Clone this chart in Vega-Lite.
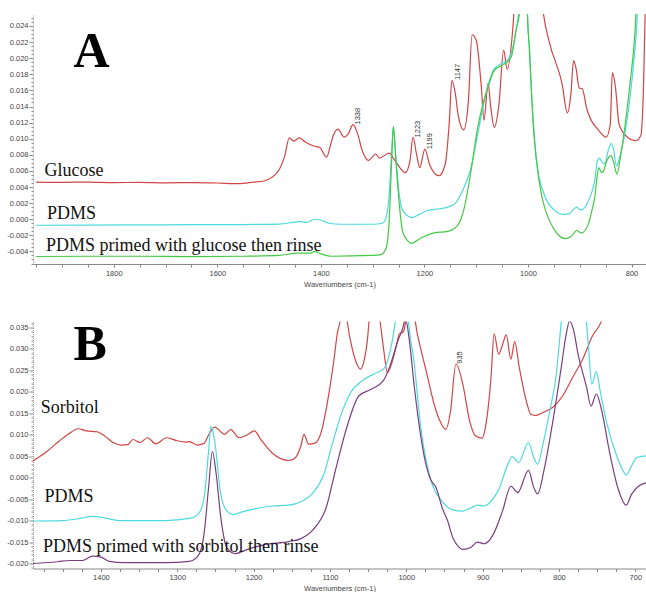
{
  "$schema": "https://vega.github.io/schema/vega-lite/v6.json",
  "background": "white",
  "padding": {"left": 0, "top": 13, "right": 0, "bottom": 0},
  "autosize": {"type": "pad"},
  "bounds": "flush",
  "spacing": 57.5,
  "config": {
    "view": {"stroke": null},
    "font": "Liberation Sans",
    "axis": {"grid": false, "labelFont": "Liberation Sans", "titleFont": "Liberation Sans"}
  },
  "resolve": {"scale": {"x": "independent", "y": "independent", "color": "independent"}},
  "datasets": {
    "a": [
      {"s":"Glucose","wn":1950,"v":0.00462},{"s":"Glucose","wn":1900,"v":0.00458},{"s":"Glucose","wn":1850,"v":0.00462},{"s":"Glucose","wn":1800,"v":0.00455},{"s":"Glucose","wn":1750,"v":0.00458},{"s":"Glucose","wn":1700,"v":0.00452},{"s":"Glucose","wn":1650,"v":0.00455},{"s":"Glucose","wn":1600,"v":0.0045},{"s":"Glucose","wn":1560,"v":0.00442},{"s":"Glucose","wn":1530,"v":0.0046},{"s":"Glucose","wn":1510,"v":0.00475},{"s":"Glucose","wn":1495,"v":0.0052},{"s":"Glucose","wn":1480,"v":0.0062},{"s":"Glucose","wn":1470,"v":0.0078},{"s":"Glucose","wn":1461,"v":0.0101},{"s":"Glucose","wn":1452,"v":0.0097},{"s":"Glucose","wn":1442,"v":0.0101},{"s":"Glucose","wn":1430,"v":0.0096},{"s":"Glucose","wn":1414,"v":0.0091},{"s":"Glucose","wn":1402,"v":0.0089},{"s":"Glucose","wn":1389,"v":0.0077},{"s":"Glucose","wn":1381,"v":0.0093},{"s":"Glucose","wn":1376,"v":0.0104},{"s":"Glucose","wn":1367,"v":0.0112},{"s":"Glucose","wn":1355,"v":0.0102},{"s":"Glucose","wn":1347,"v":0.0106},{"s":"Glucose","wn":1338,"v":0.01175},{"s":"Glucose","wn":1329,"v":0.0106},{"s":"Glucose","wn":1320,"v":0.0085},{"s":"Glucose","wn":1308,"v":0.0073},{"s":"Glucose","wn":1294,"v":0.0081},{"s":"Glucose","wn":1287,"v":0.0076},{"s":"Glucose","wn":1268,"v":0.0082},{"s":"Glucose","wn":1257,"v":0.0073},{"s":"Glucose","wn":1237,"v":0.0058},{"s":"Glucose","wn":1228,"v":0.0072},{"s":"Glucose","wn":1222,"v":0.0102},{"s":"Glucose","wn":1215,"v":0.008},{"s":"Glucose","wn":1209,"v":0.0064},{"s":"Glucose","wn":1199,"v":0.0087},{"s":"Glucose","wn":1190,"v":0.0068},{"s":"Glucose","wn":1172,"v":0.0054},{"s":"Glucose","wn":1160,"v":0.0068},{"s":"Glucose","wn":1152,"v":0.012},{"s":"Glucose","wn":1147,"v":0.01725},{"s":"Glucose","wn":1140,"v":0.0155},{"s":"Glucose","wn":1135,"v":0.013},{"s":"Glucose","wn":1124,"v":0.0111},{"s":"Glucose","wn":1115,"v":0.0147},{"s":"Glucose","wn":1108,"v":0.0229},{"s":"Glucose","wn":1100,"v":0.02225},{"s":"Glucose","wn":1090,"v":0.0164},{"s":"Glucose","wn":1085,"v":0.0123},{"s":"Glucose","wn":1077,"v":0.0169},{"s":"Glucose","wn":1072,"v":0.014},{"s":"Glucose","wn":1065,"v":0.0114},{"s":"Glucose","wn":1056,"v":0.0143},{"s":"Glucose","wn":1047,"v":0.021},{"s":"Glucose","wn":1040,"v":0.0186},{"s":"Glucose","wn":1030,"v":0.0231},{"s":"Glucose","wn":1020,"v":0.033},{"s":"Glucose","wn":1000,"v":0.045},{"s":"Glucose","wn":980,"v":0.032},{"s":"Glucose","wn":970,"v":0.0255},{"s":"Glucose","wn":958,"v":0.0218},{"s":"Glucose","wn":934,"v":0.0168},{"s":"Glucose","wn":924,"v":0.0132},{"s":"Glucose","wn":917,"v":0.0156},{"s":"Glucose","wn":912,"v":0.0197},{"s":"Glucose","wn":907,"v":0.0187},{"s":"Glucose","wn":901,"v":0.0163},{"s":"Glucose","wn":895,"v":0.0162},{"s":"Glucose","wn":887,"v":0.0139},{"s":"Glucose","wn":863,"v":0.011},{"s":"Glucose","wn":849,"v":0.0102},{"s":"Glucose","wn":841,"v":0.0118},{"s":"Glucose","wn":837,"v":0.0182},{"s":"Glucose","wn":831,"v":0.0164},{"s":"Glucose","wn":824,"v":0.0118},{"s":"Glucose","wn":808,"v":0.0102},{"s":"Glucose","wn":792,"v":0.00975},{"s":"Glucose","wn":782,"v":0.0104},{"s":"Glucose","wn":777,"v":0.016},{"s":"Glucose","wn":772,"v":0.03},
      {"s":"PDMS","wn":1950,"v":-0.00075},{"s":"PDMS","wn":1850,"v":-0.00072},{"s":"PDMS","wn":1750,"v":-0.0007},{"s":"PDMS","wn":1650,"v":-0.00068},{"s":"PDMS","wn":1550,"v":-0.00066},{"s":"PDMS","wn":1480,"v":-0.0006},{"s":"PDMS","wn":1450,"v":-0.00035},{"s":"PDMS","wn":1440,"v":-0.0003},{"s":"PDMS","wn":1428,"v":-0.0004},{"s":"PDMS","wn":1412,"v":0.0},{"s":"PDMS","wn":1400,"v":-0.0001},{"s":"PDMS","wn":1385,"v":-0.0005},{"s":"PDMS","wn":1360,"v":-0.00062},{"s":"PDMS","wn":1300,"v":-0.00062},{"s":"PDMS","wn":1281,"v":-0.0005},{"s":"PDMS","wn":1274,"v":0.0002},{"s":"PDMS","wn":1268,"v":0.0031},{"s":"PDMS","wn":1263,"v":0.0085},{"s":"PDMS","wn":1260,"v":0.0115},{"s":"PDMS","wn":1256,"v":0.0085},{"s":"PDMS","wn":1250,"v":0.0039},{"s":"PDMS","wn":1244,"v":0.0014},{"s":"PDMS","wn":1232,"v":0.0004},{"s":"PDMS","wn":1224,"v":0.0002},{"s":"PDMS","wn":1210,"v":0.0006},{"s":"PDMS","wn":1194,"v":0.00108},{"s":"PDMS","wn":1170,"v":0.0013},{"s":"PDMS","wn":1155,"v":0.0015},{"s":"PDMS","wn":1140,"v":0.002},{"s":"PDMS","wn":1129,"v":0.0032},{"s":"PDMS","wn":1120,"v":0.0045},{"s":"PDMS","wn":1110,"v":0.0064},{"s":"PDMS","wn":1097,"v":0.0106},{"s":"PDMS","wn":1084,"v":0.0148},{"s":"PDMS","wn":1074,"v":0.0173},{"s":"PDMS","wn":1065,"v":0.0187},{"s":"PDMS","wn":1052,"v":0.0193},{"s":"PDMS","wn":1039,"v":0.0198},{"s":"PDMS","wn":1029,"v":0.0214},{"s":"PDMS","wn":1023,"v":0.0235},{"s":"PDMS","wn":1018,"v":0.0258},{"s":"PDMS","wn":1010,"v":0.045},{"s":"PDMS","wn":1005,"v":0.045},{"s":"PDMS","wn":1001,"v":0.0256},{"s":"PDMS","wn":997,"v":0.021},{"s":"PDMS","wn":994,"v":0.0168},{"s":"PDMS","wn":989,"v":0.0115},{"s":"PDMS","wn":984,"v":0.0077},{"s":"PDMS","wn":978,"v":0.005},{"s":"PDMS","wn":971,"v":0.0035},{"s":"PDMS","wn":961,"v":0.002},{"s":"PDMS","wn":950,"v":0.0012},{"s":"PDMS","wn":942,"v":0.0008},{"s":"PDMS","wn":930,"v":0.0006},{"s":"PDMS","wn":920,"v":0.0007},{"s":"PDMS","wn":912,"v":0.0012},{"s":"PDMS","wn":906,"v":0.0015},{"s":"PDMS","wn":900,"v":0.0012},{"s":"PDMS","wn":895,"v":0.0012},{"s":"PDMS","wn":884,"v":0.0022},{"s":"PDMS","wn":876,"v":0.0035},{"s":"PDMS","wn":871,"v":0.0048},{"s":"PDMS","wn":866,"v":0.0072},{"s":"PDMS","wn":862,"v":0.0076},{"s":"PDMS","wn":857,"v":0.0071},{"s":"PDMS","wn":852,"v":0.0069},{"s":"PDMS","wn":845,"v":0.0085},{"s":"PDMS","wn":839,"v":0.0094},{"s":"PDMS","wn":835,"v":0.0088},{"s":"PDMS","wn":829,"v":0.0066},{"s":"PDMS","wn":823,"v":0.0077},{"s":"PDMS","wn":813,"v":0.0106},{"s":"PDMS","wn":800,"v":0.0168},{"s":"PDMS","wn":790,"v":0.0239},{"s":"PDMS","wn":785,"v":0.03},
      {"s":"Primed","wn":1950,"v":-0.00463},{"s":"Primed","wn":1850,"v":-0.0046},{"s":"Primed","wn":1750,"v":-0.0046},{"s":"Primed","wn":1650,"v":-0.00465},{"s":"Primed","wn":1550,"v":-0.0046},{"s":"Primed","wn":1480,"v":-0.0045},{"s":"Primed","wn":1445,"v":-0.0042},{"s":"Primed","wn":1420,"v":-0.0042},{"s":"Primed","wn":1412,"v":-0.004},{"s":"Primed","wn":1400,"v":-0.0043},{"s":"Primed","wn":1380,"v":-0.0046},{"s":"Primed","wn":1300,"v":-0.0045},{"s":"Primed","wn":1284,"v":-0.0044},{"s":"Primed","wn":1274,"v":-0.0036},{"s":"Primed","wn":1268,"v":-0.0002},{"s":"Primed","wn":1263,"v":0.0077},{"s":"Primed","wn":1260,"v":0.0115},{"s":"Primed","wn":1255,"v":0.0072},{"s":"Primed","wn":1248,"v":0.0015},{"s":"Primed","wn":1242,"v":-0.0015},{"s":"Primed","wn":1232,"v":-0.0027},{"s":"Primed","wn":1226,"v":-0.003},{"s":"Primed","wn":1206,"v":-0.0023},{"s":"Primed","wn":1181,"v":-0.0017},{"s":"Primed","wn":1155,"v":-0.0015},{"s":"Primed","wn":1135,"v":-0.0007},{"s":"Primed","wn":1123,"v":0.0014},{"s":"Primed","wn":1110,"v":0.006},{"s":"Primed","wn":1097,"v":0.0114},{"s":"Primed","wn":1087,"v":0.0143},{"s":"Primed","wn":1077,"v":0.0164},{"s":"Primed","wn":1065,"v":0.0185},{"s":"Primed","wn":1045,"v":0.0193},{"s":"Primed","wn":1032,"v":0.0202},{"s":"Primed","wn":1023,"v":0.0235},{"s":"Primed","wn":1016,"v":0.0258},{"s":"Primed","wn":1009,"v":0.045},{"s":"Primed","wn":1004,"v":0.045},{"s":"Primed","wn":1001,"v":0.0256},{"s":"Primed","wn":997,"v":0.021},{"s":"Primed","wn":994,"v":0.0168},{"s":"Primed","wn":989,"v":0.011},{"s":"Primed","wn":984,"v":0.0075},{"s":"Primed","wn":974,"v":0.0031},{"s":"Primed","wn":968,"v":0.0015},{"s":"Primed","wn":961,"v":0.0002},{"s":"Primed","wn":950,"v":-0.0012},{"s":"Primed","wn":942,"v":-0.0019},{"s":"Primed","wn":929,"v":-0.0024},{"s":"Primed","wn":916,"v":-0.0021},{"s":"Primed","wn":906,"v":-0.0014},{"s":"Primed","wn":897,"v":-0.0017},{"s":"Primed","wn":884,"v":-0.0007},{"s":"Primed","wn":876,"v":0.0012},{"s":"Primed","wn":871,"v":0.0027},{"s":"Primed","wn":866,"v":0.0055},{"s":"Primed","wn":863,"v":0.0064},{"s":"Primed","wn":858,"v":0.0058},{"s":"Primed","wn":855,"v":0.0059},{"s":"Primed","wn":848,"v":0.0072},{"s":"Primed","wn":840,"v":0.0079},{"s":"Primed","wn":835,"v":0.0072},{"s":"Primed","wn":828,"v":0.0056},{"s":"Primed","wn":822,"v":0.0075},{"s":"Primed","wn":816,"v":0.01},{"s":"Primed","wn":803,"v":0.0168},{"s":"Primed","wn":793,"v":0.0235},{"s":"Primed","wn":788,"v":0.03}
    ],
    "b": [
      {"s":"Sorbitol","wn":1489,"v":0.0039},{"s":"Sorbitol","wn":1473,"v":0.0058},{"s":"Sorbitol","wn":1457,"v":0.0082},{"s":"Sorbitol","wn":1443,"v":0.0101},{"s":"Sorbitol","wn":1430,"v":0.0114},{"s":"Sorbitol","wn":1419,"v":0.0109},{"s":"Sorbitol","wn":1405,"v":0.0107},{"s":"Sorbitol","wn":1395,"v":0.0097},{"s":"Sorbitol","wn":1384,"v":0.0082},{"s":"Sorbitol","wn":1373,"v":0.0076},{"s":"Sorbitol","wn":1365,"v":0.0077},{"s":"Sorbitol","wn":1358,"v":0.0089},{"s":"Sorbitol","wn":1349,"v":0.0082},{"s":"Sorbitol","wn":1339,"v":0.0093},{"s":"Sorbitol","wn":1328,"v":0.0079},{"s":"Sorbitol","wn":1314,"v":0.0093},{"s":"Sorbitol","wn":1300,"v":0.0086},{"s":"Sorbitol","wn":1289,"v":0.0083},{"s":"Sorbitol","wn":1284,"v":0.0084},{"s":"Sorbitol","wn":1274,"v":0.0076},{"s":"Sorbitol","wn":1265,"v":0.008},{"s":"Sorbitol","wn":1258,"v":0.0103},{"s":"Sorbitol","wn":1251,"v":0.0118},{"s":"Sorbitol","wn":1238,"v":0.0101},{"s":"Sorbitol","wn":1230,"v":0.0112},{"s":"Sorbitol","wn":1219,"v":0.0093},{"s":"Sorbitol","wn":1208,"v":0.01},{"s":"Sorbitol","wn":1199,"v":0.0109},{"s":"Sorbitol","wn":1191,"v":0.009},{"s":"Sorbitol","wn":1176,"v":0.0058},{"s":"Sorbitol","wn":1154,"v":0.004},{"s":"Sorbitol","wn":1146,"v":0.0045},{"s":"Sorbitol","wn":1138,"v":0.0075},{"s":"Sorbitol","wn":1134,"v":0.0101},{"s":"Sorbitol","wn":1128,"v":0.0078},{"s":"Sorbitol","wn":1119,"v":0.0081},{"s":"Sorbitol","wn":1111,"v":0.0109},{"s":"Sorbitol","wn":1103,"v":0.0179},{"s":"Sorbitol","wn":1095,"v":0.0272},{"s":"Sorbitol","wn":1090,"v":0.034},{"s":"Sorbitol","wn":1087,"v":0.0362},{"s":"Sorbitol","wn":1082,"v":0.045},{"s":"Sorbitol","wn":1077,"v":0.036},{"s":"Sorbitol","wn":1070,"v":0.0295},{"s":"Sorbitol","wn":1064,"v":0.0262},{"s":"Sorbitol","wn":1060,"v":0.0253},{"s":"Sorbitol","wn":1055,"v":0.0275},{"s":"Sorbitol","wn":1051,"v":0.032},{"s":"Sorbitol","wn":1049,"v":0.036},{"s":"Sorbitol","wn":1042,"v":0.045},{"s":"Sorbitol","wn":1034,"v":0.036},{"s":"Sorbitol","wn":1029,"v":0.029},{"s":"Sorbitol","wn":1025,"v":0.0245},{"s":"Sorbitol","wn":1020,"v":0.0262},{"s":"Sorbitol","wn":1014,"v":0.03},{"s":"Sorbitol","wn":1009,"v":0.0335},{"s":"Sorbitol","wn":1004,"v":0.034},{"s":"Sorbitol","wn":1001,"v":0.0362},{"s":"Sorbitol","wn":995,"v":0.05},{"s":"Sorbitol","wn":988,"v":0.0362},{"s":"Sorbitol","wn":981,"v":0.03},{"s":"Sorbitol","wn":974,"v":0.0249},{"s":"Sorbitol","wn":961,"v":0.0156},{"s":"Sorbitol","wn":948,"v":0.0113},{"s":"Sorbitol","wn":942,"v":0.0156},{"s":"Sorbitol","wn":935,"v":0.0265},{"s":"Sorbitol","wn":926,"v":0.0218},{"s":"Sorbitol","wn":917,"v":0.0132},{"s":"Sorbitol","wn":909,"v":0.0097},{"s":"Sorbitol","wn":901,"v":0.0092},{"s":"Sorbitol","wn":895,"v":0.0132},{"s":"Sorbitol","wn":889,"v":0.0234},{"s":"Sorbitol","wn":885,"v":0.0336},{"s":"Sorbitol","wn":879,"v":0.0288},{"s":"Sorbitol","wn":875,"v":0.0304},{"s":"Sorbitol","wn":869,"v":0.0333},{"s":"Sorbitol","wn":863,"v":0.0276},{"s":"Sorbitol","wn":858,"v":0.0317},{"s":"Sorbitol","wn":852,"v":0.0257},{"s":"Sorbitol","wn":843,"v":0.018},{"s":"Sorbitol","wn":837,"v":0.0148},{"s":"Sorbitol","wn":830,"v":0.0145},{"s":"Sorbitol","wn":821,"v":0.0152},{"s":"Sorbitol","wn":808,"v":0.0164},{"s":"Sorbitol","wn":795,"v":0.0191},{"s":"Sorbitol","wn":782,"v":0.0234},{"s":"Sorbitol","wn":769,"v":0.0276},{"s":"Sorbitol","wn":756,"v":0.0331},{"s":"Sorbitol","wn":745,"v":0.0362},{"s":"Sorbitol","wn":735,"v":0.042},
      {"s":"PDMS","wn":1489,"v":-0.0101},{"s":"PDMS","wn":1451,"v":-0.01},{"s":"PDMS","wn":1427,"v":-0.0095},{"s":"PDMS","wn":1411,"v":-0.009},{"s":"PDMS","wn":1397,"v":-0.0093},{"s":"PDMS","wn":1376,"v":-0.01},{"s":"PDMS","wn":1316,"v":-0.01},{"s":"PDMS","wn":1284,"v":-0.0095},{"s":"PDMS","wn":1273,"v":-0.0086},{"s":"PDMS","wn":1265,"v":-0.0047},{"s":"PDMS","wn":1259,"v":0.0062},{"s":"PDMS","wn":1256,"v":0.012},{"s":"PDMS","wn":1251,"v":0.0085},{"s":"PDMS","wn":1243,"v":-0.0039},{"s":"PDMS","wn":1235,"v":-0.0078},{"s":"PDMS","wn":1227,"v":-0.0086},{"s":"PDMS","wn":1214,"v":-0.0079},{"s":"PDMS","wn":1197,"v":-0.0072},{"s":"PDMS","wn":1176,"v":-0.0066},{"s":"PDMS","wn":1154,"v":-0.0064},{"s":"PDMS","wn":1138,"v":-0.0056},{"s":"PDMS","wn":1122,"v":-0.0035},{"s":"PDMS","wn":1108,"v":0.0008},{"s":"PDMS","wn":1097,"v":0.0078},{"s":"PDMS","wn":1086,"v":0.0144},{"s":"PDMS","wn":1073,"v":0.0198},{"s":"PDMS","wn":1057,"v":0.0227},{"s":"PDMS","wn":1041,"v":0.0243},{"s":"PDMS","wn":1030,"v":0.0253},{"s":"PDMS","wn":1022,"v":0.0288},{"s":"PDMS","wn":1016,"v":0.0345},{"s":"PDMS","wn":1012,"v":0.04},{"s":"PDMS","wn":1005,"v":0.06},{"s":"PDMS","wn":997,"v":0.0362},{"s":"PDMS","wn":990,"v":0.0272},{"s":"PDMS","wn":981,"v":0.0117},{"s":"PDMS","wn":974,"v":0.0039},{"s":"PDMS","wn":966,"v":-0.0016},{"s":"PDMS","wn":953,"v":-0.0055},{"s":"PDMS","wn":939,"v":-0.0075},{"s":"PDMS","wn":926,"v":-0.0078},{"s":"PDMS","wn":915,"v":-0.007},{"s":"PDMS","wn":907,"v":-0.0064},{"s":"PDMS","wn":898,"v":-0.0066},{"s":"PDMS","wn":889,"v":-0.0055},{"s":"PDMS","wn":878,"v":-0.0024},{"s":"PDMS","wn":867,"v":0.0031},{"s":"PDMS","wn":861,"v":0.0049},{"s":"PDMS","wn":853,"v":0.0035},{"s":"PDMS","wn":840,"v":0.0082},{"s":"PDMS","wn":833,"v":0.0047},{"s":"PDMS","wn":828,"v":0.0031},{"s":"PDMS","wn":821,"v":0.0078},{"s":"PDMS","wn":812,"v":0.0156},{"s":"PDMS","wn":804,"v":0.0234},{"s":"PDMS","wn":797,"v":0.0362},{"s":"PDMS","wn":788,"v":0.05},{"s":"PDMS","wn":770,"v":0.045},{"s":"PDMS","wn":764,"v":0.0362},{"s":"PDMS","wn":761,"v":0.0296},{"s":"PDMS","wn":757,"v":0.0218},{"s":"PDMS","wn":751,"v":0.0247},{"s":"PDMS","wn":746,"v":0.0202},{"s":"PDMS","wn":738,"v":0.0132},{"s":"PDMS","wn":725,"v":0.0054},{"s":"PDMS","wn":716,"v":0.0016},{"s":"PDMS","wn":712,"v":0.0006},{"s":"PDMS","wn":705,"v":0.0027},{"s":"PDMS","wn":698,"v":0.0047},{"s":"PDMS","wn":686,"v":0.0051},
      {"s":"Primed","wn":1489,"v":-0.02},{"s":"Primed","wn":1457,"v":-0.0196},{"s":"Primed","wn":1441,"v":-0.0193},{"s":"Primed","wn":1424,"v":-0.0193},{"s":"Primed","wn":1411,"v":-0.0183},{"s":"Primed","wn":1400,"v":-0.0185},{"s":"Primed","wn":1389,"v":-0.0195},{"s":"Primed","wn":1370,"v":-0.0198},{"s":"Primed","wn":1316,"v":-0.0198},{"s":"Primed","wn":1284,"v":-0.0195},{"s":"Primed","wn":1273,"v":-0.0183},{"s":"Primed","wn":1265,"v":-0.0132},{"s":"Primed","wn":1259,"v":-0.0023},{"s":"Primed","wn":1254,"v":0.0061},{"s":"Primed","wn":1249,"v":0.0008},{"s":"Primed","wn":1243,"v":-0.0093},{"s":"Primed","wn":1235,"v":-0.0163},{"s":"Primed","wn":1224,"v":-0.0177},{"s":"Primed","wn":1208,"v":-0.0167},{"s":"Primed","wn":1186,"v":-0.0156},{"s":"Primed","wn":1154,"v":-0.0149},{"s":"Primed","wn":1138,"v":-0.0142},{"s":"Primed","wn":1122,"v":-0.0121},{"s":"Primed","wn":1105,"v":-0.007},{"s":"Primed","wn":1092,"v":0.0023},{"s":"Primed","wn":1078,"v":0.0117},{"s":"Primed","wn":1062,"v":0.0191},{"s":"Primed","wn":1046,"v":0.0206},{"s":"Primed","wn":1030,"v":0.0226},{"s":"Primed","wn":1022,"v":0.0257},{"s":"Primed","wn":1011,"v":0.0319},{"s":"Primed","wn":1005,"v":0.0346},{"s":"Primed","wn":1001,"v":0.037},{"s":"Primed","wn":996,"v":0.032},{"s":"Primed","wn":990,"v":0.022},{"s":"Primed","wn":983,"v":0.012},{"s":"Primed","wn":976,"v":0.0045},{"s":"Primed","wn":968,"v":-0.0005},{"s":"Primed","wn":961,"v":-0.0023},{"s":"Primed","wn":953,"v":-0.007},{"s":"Primed","wn":946,"v":-0.01},{"s":"Primed","wn":939,"v":-0.014},{"s":"Primed","wn":932,"v":-0.016},{"s":"Primed","wn":926,"v":-0.0167},{"s":"Primed","wn":915,"v":-0.0162},{"s":"Primed","wn":907,"v":-0.015},{"s":"Primed","wn":898,"v":-0.0154},{"s":"Primed","wn":887,"v":-0.0135},{"s":"Primed","wn":874,"v":-0.0078},{"s":"Primed","wn":863,"v":-0.002},{"s":"Primed","wn":854,"v":-0.0035},{"s":"Primed","wn":840,"v":0.0017},{"s":"Primed","wn":833,"v":-0.0023},{"s":"Primed","wn":828,"v":-0.0038},{"s":"Primed","wn":819,"v":0.0023},{"s":"Primed","wn":808,"v":0.0132},{"s":"Primed","wn":797,"v":0.0257},{"s":"Primed","wn":791,"v":0.033},{"s":"Primed","wn":786,"v":0.0365},{"s":"Primed","wn":781,"v":0.0345},{"s":"Primed","wn":775,"v":0.0288},{"s":"Primed","wn":764,"v":0.0212},{"s":"Primed","wn":758,"v":0.0167},{"s":"Primed","wn":751,"v":0.0195},{"s":"Primed","wn":744,"v":0.0156},{"s":"Primed","wn":734,"v":0.0062},{"s":"Primed","wn":723,"v":-0.0023},{"s":"Primed","wn":712,"v":-0.0064},{"s":"Primed","wn":705,"v":-0.0039},{"s":"Primed","wn":696,"v":-0.002},{"s":"Primed","wn":686,"v":-0.0012}
    ],
    "labA": [
      {"t":"Glucose","wn":1934,"v":0.00535},
      {"t":"PDMS","wn":1929,"v":0.0},
      {"t":"PDMS primed with glucose then rinse","wn":1931,"v":-0.004}
    ],
    "labB": [
      {"t":"Sorbitol","wn":1479,"v":0.015},
      {"t":"PDMS","wn":1474,"v":-0.0056},
      {"t":"PDMS primed with sorbitol then rinse","wn":1476,"v":-0.0173}
    ],
    "annA": [
      {"t":"1338","wn":1329,"v":0.0128},
      {"t":"1223","wn":1212,"v":0.0112},
      {"t":"1199","wn":1189,"v":0.0097},
      {"t":"1147","wn":1136,"v":0.0183}
    ],
    "annB": [
      {"t":"935","wn":929,"v":0.028}
    ],
    "letA": [{"t":"A","wn":1843,"v":0.0189}],
    "letB": [{"t":"B","wn":1414,"v":0.0274}]
  },
  "vconcat": [
    {
      "width": 613,
      "height": 250,
      "encoding": {
        "x": {"field": "wn", "type": "quantitative",
          "scale": {"domain": [772, 1956], "reverse": true, "nice": false, "zero": false},
          "axis": {
            "values": [1950,1900,1850,1800,1750,1700,1650,1600,1550,1500,1450,1400,1350,1300,1250,1200,1150,1100,1050,1000,950,900,850,800],
            "format": "d",
            "labelExpr": "datum.value % 200 == 0 ? datum.label : ''",
            "labelOverlap": false,
            "tickSize": 3, "tickColor": "#888", "domainColor": "#888",
            "labelFontSize": 7.5, "labelColor": "#444", "labelPadding": 2,
            "title": "Wavenumbers (cm-1)", "titleFontSize": 7.5, "titleFontWeight": "normal", "titleColor": "#444", "titlePadding": 4
          }
        },
        "y": {"field": "v", "type": "quantitative",
          "scale": {"domain": [-0.00556, 0.02549], "nice": false, "zero": false},
          "axis": {
            "values": [-0.0055,-0.005,-0.0045,-0.004,-0.0035,-0.003,-0.0025,-0.002,-0.0015,-0.001,-0.0005,0,0.0005,0.001,0.0015,0.002,0.0025,0.003,0.0035,0.004,0.0045,0.005,0.0055,0.006,0.0065,0.007,0.0075,0.008,0.0085,0.009,0.0095,0.01,0.0105,0.011,0.0115,0.012,0.0125,0.013,0.0135,0.014,0.0145,0.015,0.0155,0.016,0.0165,0.017,0.0175,0.018,0.0185,0.019,0.0195,0.02,0.0205,0.021,0.0215,0.022,0.0225,0.023,0.0235,0.024,0.0245,0.025],
            "format": ".3f",
            "labelExpr": "abs(datum.value*500 - round(datum.value*500)) < 0.01 ? replace(datum.label, '\u2212', '-') : ''",
            "labelOverlap": false,
            "tickSize": {"condition": {"test": "abs(datum.value*500 - round(datum.value*500)) < 0.01", "value": 4}, "value": 2},
            "tickColor": "#888", "domainColor": "#999", "domainDash": [1, 1],
            "labelFontSize": 7.5, "labelColor": "#444", "labelPadding": 1,
            "title": null, "minExtent": 33, "maxExtent": 33
          }
        }
      },
      "layer": [
        {
          "data": {"name": "a"},
          "mark": {"type": "line", "strokeWidth": 1.2, "clip": true, "interpolate": "monotone"},
          "encoding": {
            "color": {"field": "s", "type": "nominal", "legend": null,
              "scale": {"domain": ["Glucose", "PDMS", "Primed"], "range": ["#d04545", "#4dd9dd", "#44c844"]}}
          }
        },
        {
          "data": {"name": "labA"},
          "mark": {"type": "text", "font": "Liberation Serif", "fontSize": 18, "align": "left", "baseline": "alphabetic", "color": "#111"},
          "encoding": {"text": {"field": "t"}}
        },
        {
          "data": {"name": "annA"},
          "mark": {"type": "text", "font": "Liberation Sans", "fontSize": 7.5, "angle": 270, "align": "center", "baseline": "middle", "color": "#333"},
          "encoding": {"text": {"field": "t"}}
        },
        {
          "data": {"name": "letA"},
          "mark": {"type": "text", "font": "Liberation Serif", "fontWeight": "bold", "fontSize": 50, "align": "center", "baseline": "alphabetic", "color": "#000"},
          "encoding": {"text": {"field": "t"}}
        }
      ]
    },
    {
      "width": 613,
      "height": 247,
      "encoding": {
        "x": {"field": "wn", "type": "quantitative",
          "scale": {"domain": [686, 1489], "reverse": true, "nice": false, "zero": false},
          "axis": {
            "values": [1475,1450,1425,1400,1375,1350,1325,1300,1275,1250,1225,1200,1175,1150,1125,1100,1075,1050,1025,1000,975,950,925,900,875,850,825,800,775,750,725,700],
            "format": "d",
            "labelExpr": "datum.value % 100 == 0 ? datum.label : ''",
            "labelOverlap": false,
            "tickSize": 3, "tickColor": "#888", "domainColor": "#888",
            "labelFontSize": 7.5, "labelColor": "#444", "labelPadding": 2,
            "title": "Wavenumbers (cm-1)", "titleFontSize": 7.5, "titleFontWeight": "normal", "titleColor": "#444", "titlePadding": 3
          }
        },
        "y": {"field": "v", "type": "quantitative",
          "scale": {"domain": [-0.02117, 0.0364], "nice": false, "zero": false},
          "axis": {
            "values": [-0.021,-0.02,-0.019,-0.018,-0.017,-0.016,-0.015,-0.014,-0.013,-0.012,-0.011,-0.01,-0.009,-0.008,-0.007,-0.006,-0.005,-0.004,-0.003,-0.002,-0.001,0,0.001,0.002,0.003,0.004,0.005,0.006,0.007,0.008,0.009,0.01,0.011,0.012,0.013,0.014,0.015,0.016,0.017,0.018,0.019,0.02,0.021,0.022,0.023,0.024,0.025,0.026,0.027,0.028,0.029,0.03,0.031,0.032,0.033,0.034,0.035,0.036],
            "format": ".3f",
            "labelExpr": "abs(datum.value*200 - round(datum.value*200)) < 0.01 ? replace(datum.label, '\u2212', '-') : ''",
            "labelOverlap": false,
            "tickSize": {"condition": {"test": "abs(datum.value*200 - round(datum.value*200)) < 0.01", "value": 4}, "value": 2},
            "tickColor": "#888", "domainColor": "#999", "domainDash": [1, 1],
            "labelFontSize": 7.5, "labelColor": "#444", "labelPadding": 1,
            "title": null, "minExtent": 33, "maxExtent": 33
          }
        }
      },
      "layer": [
        {
          "data": {"name": "b"},
          "mark": {"type": "line", "strokeWidth": 1.2, "clip": true, "interpolate": "monotone"},
          "encoding": {
            "color": {"field": "s", "type": "nominal", "legend": null,
              "scale": {"domain": ["Sorbitol", "PDMS", "Primed"], "range": ["#d04545", "#4dd9dd", "#7a3f7f"]}}
          }
        },
        {
          "data": {"name": "labB"},
          "mark": {"type": "text", "font": "Liberation Serif", "fontSize": 18, "align": "left", "baseline": "alphabetic", "color": "#111"},
          "encoding": {"text": {"field": "t"}}
        },
        {
          "data": {"name": "annB"},
          "mark": {"type": "text", "font": "Liberation Sans", "fontSize": 7.5, "angle": 270, "align": "center", "baseline": "middle", "color": "#333"},
          "encoding": {"text": {"field": "t"}}
        },
        {
          "data": {"name": "letB"},
          "mark": {"type": "text", "font": "Liberation Serif", "fontWeight": "bold", "fontSize": 50, "align": "center", "baseline": "alphabetic", "color": "#000"},
          "encoding": {"text": {"field": "t"}}
        }
      ]
    }
  ]
}
